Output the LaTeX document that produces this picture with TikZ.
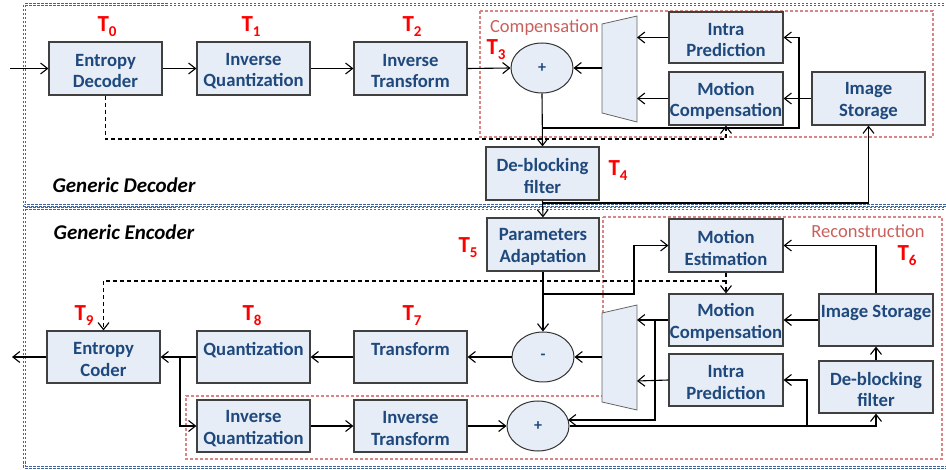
\documentclass[tikz,border=0pt]{standalone}
\usepackage{fontspec}
\setmainfont{Carlito}
\usetikzlibrary{arrows.meta,shapes.geometric}
\definecolor{txtblue}{HTML}{1F497D}
\definecolor{boxfill}{HTML}{E6EDF6}
\definecolor{outerblue}{HTML}{3F64A0}
\definecolor{redbox}{HTML}{D98585}
\definecolor{redtxt}{HTML}{C9605C}
\newcommand\Tlab[1]{{\fontsize{23}{23}\selectfont T}\raisebox{-5pt}{\fontsize{15}{15}\selectfont #1}}
\begin{document}
\begin{tikzpicture}[x=1pt,y=-1pt,
  blk/.style={draw=black!75, line width=1.2pt, fill=boxfill, minimum width=113pt, minimum height=53pt,
    inner sep=0pt, label={[lab]center:#1}},
  lab/.style={align=center, inner sep=0pt, yshift=-2.5pt, font=\fontsize{18.7}{21.7}\selectfont\bfseries, text=txtblue},
  ell/.style={ellipse, draw=black!80, line width=1pt, fill=boxfill, minimum width=62pt, minimum height=50pt,
    inner sep=0pt, font=\fontsize{16}{18}\selectfont\bfseries, text=txtblue},
  mux/.style={draw=black!60, line width=0.8pt, fill=boxfill},
  tl/.style={text=red, font=\bfseries, inner sep=0pt},
  arr/.style={line width=1.1pt, -{Straight Barb[length=7pt,width=11pt,line width=1.1pt]}},
  darr/.style={arr, dash pattern=on 4pt off 3pt},
  outer/.style={draw=outerblue, line width=1pt, double=white, double distance=1pt, dash pattern=on 2.5pt off 1.5pt},
  redd/.style={draw=redbox, line width=1.2pt, dash pattern=on 3pt off 2pt},
  redlab/.style={text=redtxt, font=\fontsize{18.5}{18.5}\selectfont, inner sep=0pt},
  ital/.style={font=\fontsize{21}{21}\selectfont\bfseries\itshape, inner sep=0pt}
]
\useasboundingbox (0,0) rectangle (946,470);
\begin{scope}
  \clip (0,0) rectangle (946,470);
  \draw[outer] (24,5) rectangle (975,206);
  \draw[outer] (24,209) rectangle (975,468);
\end{scope}
% reconstruction / compensation regions
\draw[redd] (480,11) rectangle (933,137);
\draw[redd] (603,217) -- (942,217) -- (942,459) -- (186,459) -- (186,396) -- (603,396) -- cycle;
\node[redlab] (complab) at (544.5,28) {Compensation};
\node[redlab] (reclab) at (868,231) {Reconstruction};
\node[ital] (gdec) at (124,185) {Generic Decoder};
\node[ital] (genc) at (124,232) {Generic Encoder};

% ---------------- decoder ----------------
\node[blk={Entropy\\Decoder}] (ED)  at (105.5,68.5) {};
\node[blk={Inverse\\Quantization}] (IQd) at (253.5,68.5) {};
\node[blk={Inverse\\Transform}] (ITd) at (410.5,68.5) {};
\node[ell] (addd) at (542,68) {+};
\draw[mux] (602,24) -- (637,16) -- (637,122) -- (602,113) -- cycle;
\coordinate (mdA) at (637,37.5);
\coordinate (mdB) at (637,98.5);
\coordinate (mdO) at (602,68);
\node[blk={Intra\\Prediction}, minimum width=114pt, minimum height=51pt] (IPd) at (726,37.5) {};
\node[blk={Motion\\Compensation}, minimum width=114pt] (MCd) at (726,98.5) {};
\node[blk={Image\\Storage}] (ISd) at (868.5,98.5) {};
\node[blk={De-blocking\\filter}] (DBd) at (542.5,173.5) {};

\node[tl] (t0) at (107,27) {\Tlab{0}};
\node[tl] (t1) at (251,27) {\Tlab{1}};
\node[tl] (t2) at (412,27) {\Tlab{2}};
\node[tl] (t3) at (496,49.5) {\Tlab{3}};
\node[tl] (t4) at (618,171) {\Tlab{4}};

\coordinate (inD) at (10,68.5);
\draw[arr] (inD) -- (ED.west);
\draw[arr] (ED) -- (IQd);
\draw[arr] (IQd) -- (ITd);
\draw[arr] (ITd.east) -- (addd.west);
\draw[arr] (mdO) -- (addd.east);
\draw[arr] (IPd.west) -- (mdA);
\draw[arr] (MCd.west) -- (mdB);
\draw[arr] (ISd.west) -- (MCd.east);
\draw[arr] (addd.south) -- (DBd.north);
\coordinate (jd) at (542,128);
\draw[arr] (jd) -- (799,128) -- (799,37.5) -- (IPd.east);
\draw[darr] (ED.south) -- (105.5,139) -- (726,139) -- (MCd.south);
\draw[arr] (DBd.south) |- (868.5,203) -- (ISd.south);

% ---------------- encoder ----------------
\node[blk={Parameters\\Adaptation}, minimum width=112pt] (PA) at (543,244.5) {};
\node[blk={Motion\\Estimation}, minimum width=114pt] (ME) at (726,245.5) {};
\node[blk={Motion\\Compensation}, minimum width=114pt, minimum height=52pt] (MCe) at (726,320) {};
\node[blk={Image Storage\\\phantom{I}}, minimum width=114pt, minimum height=52pt] (ISe) at (876,320) {};
\node[blk={Intra\\Prediction}, minimum width=114pt, minimum height=52pt] (IPe) at (726,380) {};
\node[blk={De-blocking\\filter}, minimum width=114pt, minimum height=52pt] (DBe) at (876,387) {};
\node[ell] (sub) at (543,357) {-};
\node[ell] (add) at (538,426) {+};
\draw[mux] (602,313) -- (637,305) -- (637,410) -- (602,402) -- cycle;
\coordinate (meA) at (637,320);
\coordinate (meB) at (637,381);
\coordinate (meO) at (602,357);
\node[blk={Entropy\\Coder}, minimum height=52pt] (EC) at (103.5,357) {};
\node[blk={Quantization\\\phantom{I}}, minimum height=52pt] (Q)  at (253.5,357) {};
\node[blk={Transform\\\phantom{I}}, minimum height=52pt] (T)  at (410.5,357) {};
\node[blk={Inverse\\Quantization}, minimum height=52pt] (IQe) at (253.5,426) {};
\node[blk={Inverse\\Transform}, minimum height=52pt] (ITe) at (410.5,426) {};

\node[tl] (t5) at (468,248) {\Tlab{5}};
\node[tl] (t6) at (907,256) {\Tlab{6}};
\node[tl] (t7) at (412,316) {\Tlab{7}};
\node[tl] (t8) at (252,316) {\Tlab{8}};
\node[tl] (t9) at (84,316) {\Tlab{9}};

\draw[arr] (DBd.south) -- (PA.north);
\draw[arr] (PA.south) -- (sub.north);
\draw[arr] (543,294) -- (634,294) -- (634,245.5) -- (ME.west);
\draw[darr] (ME.south) -- (MCe.north);
\draw[darr] (726,281) -- (103.5,281) -- (EC.north);
\draw[arr] (ISe.north) -- (876,245.5) -- (ME.east);
\draw[arr] (ISe.west) -- (MCe.east);
\draw[arr] (MCe.west) -- (meA);
\draw[arr] (IPe.west) -- (meB);
\draw[arr] (655,320) -- (655,420) -- (568,420);
\draw[arr] (meO) -- (sub.east);
\draw[arr] (sub.west) -- (T.east);
\draw[arr] (T.west) -- (Q.east);
\draw[arr] (Q.west) -- (EC.east);
\coordinate (outE) at (12,357);
\draw[arr] (EC.west) -- (outE);
\draw[arr] (180,357) -- (180,426) -- (IQe.west);
\draw[arr] (IQe) -- (ITe);
\draw[arr] (ITe.east) -- (add.west);
\draw[arr] (add.east) -- (876,426) -- (DBe.south);
\draw[arr] (807,426) -- (807,380) -- (IPe.east);
\draw[arr] (DBe.north) -- (ISe.south);
\end{tikzpicture}
\end{document}
